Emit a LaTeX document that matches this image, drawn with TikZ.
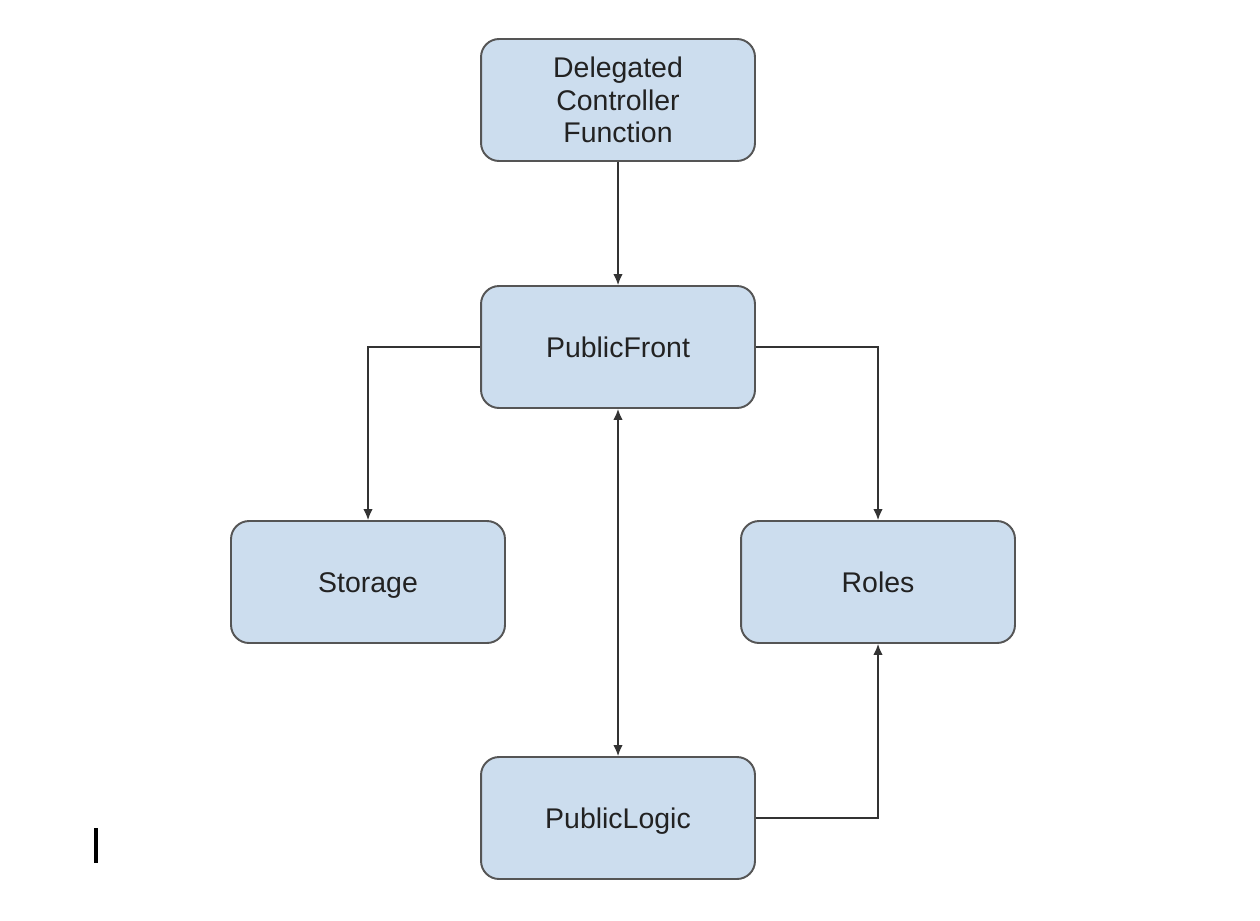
\documentclass[tikz,border=0pt]{standalone}
\usepackage{fontspec}
\setmainfont{Liberation Sans}
\usepackage{tikz}
\usetikzlibrary{arrows.meta,positioning,backgrounds}
\definecolor{boxfill}{HTML}{CCDDEE}
\definecolor{boxline}{HTML}{555555}
\definecolor{txt}{HTML}{222222}
\definecolor{wire}{HTML}{333333}
\tikzset{
  modbox/.style={draw=boxline, fill=boxfill, line width=1.1pt, rounded corners=0.36cm,
    minimum width=5.48cm, minimum height=2.44cm, align=center, text=txt,
    font=\fontsize{16.2}{18.5}\selectfont},
  oneline/.style={text height=11.8pt, text depth=0pt},
  link/.style={draw=wire, line width=0.8pt, -{Latex[length=2.2mm,width=1.9mm]}}
}
\begin{document}
\begin{tikzpicture}[x=0.02cm,y=-0.02cm]
\useasboundingbox (0,0) rectangle (1260,920);
\fill[white] (0,0) rectangle (1260,920);
\node[modbox] (dcf) at (618,100) {Delegated\\Controller\\Function};
\node[modbox,oneline] (front) at (618,347) {PublicFront};
\node[modbox,oneline] (storage) at (368,582) {Storage};
\node[modbox,oneline] (roles) at (878,582) {Roles};
\node[modbox,oneline] (logic) at (618,818) {PublicLogic};
\draw[link] (dcf) -- (front);
\draw[link] (front.west) -| (storage.north);
\draw[link] (front.east) -| (roles.north);
\draw[link,{Latex[length=2.2mm,width=1.9mm]}-{Latex[length=2.2mm,width=1.9mm]}] (front) -- (logic);
\draw[link] (logic.east) -| (roles.south);
% cursor mark
\fill[black] (94,828) rectangle (97.5,863);
\end{tikzpicture}
\end{document}
